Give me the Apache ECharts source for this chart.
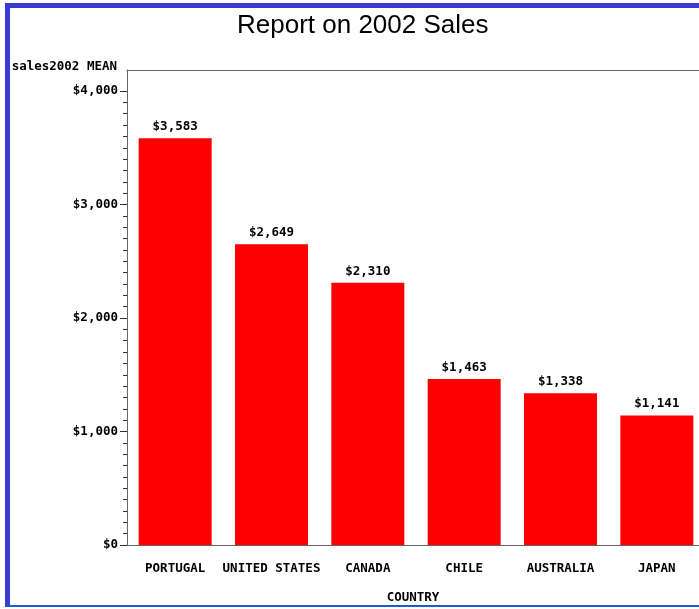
<!DOCTYPE html>
<html>
<head>
<meta charset="utf-8">
<script src="https://cdn.jsdelivr.net/npm/echarts@6/dist/echarts.min.js"></script>
<style>
html,body{margin:0;padding:0;background:#fff;width:699px;height:609px;overflow:hidden;position:relative;}
#frame{position:absolute;left:5px;top:3px;width:720px;height:597px;border-top:5px solid #3b3bd4;border-left:5px solid #3b3bd4;border-bottom:2px solid #1f58d8;box-sizing:content-box;}
#chart{position:absolute;left:0;top:0;width:720px;height:609px;z-index:2;}
</style>
</head>
<body>
<div id="frame"></div>
<div id="chart"></div>
<script>
const titleText = 'Report on 2002 Sales';
const yAxisName = 'sales2002 MEAN';
const xAxisName = 'COUNTRY';
const countries = ['PORTUGAL', 'UNITED STATES', 'CANADA', 'CHILE', 'AUSTRALIA', 'JAPAN'];
const sales2002Mean = [3583, 2649, 2310, 1463, 1338, 1141];
const yTicks = [0, 1000, 2000, 3000, 4000];

const money = v => '$' + Math.round(v).toString().replace(/\B(?=(\d{3})+(?!\d))/g, ',');
const mono = 'DejaVu Sans Mono';
const fs = 12.5;
const axisGray = '#666666';

const chart = echarts.init(document.getElementById('chart'));
chart.setOption({
  backgroundColor: 'transparent',
  animation: false,
  title: {
    text: titleText,
    left: 232, top: 8,
    textStyle: {fontFamily: 'Liberation Sans', fontSize: 26, fontWeight: 'normal', color: '#000'}
  },
  grid: [
    {left: 127, top: 91, width: 578, height: 454, containLabel: false},
    {left: 127, top: 70, width: 578, height: 21, containLabel: false}
  ],
  xAxis: [
    {
      type: 'category', gridIndex: 0, data: countries,
      axisLine: {lineStyle: {color: axisGray, width: 1}},
      axisTick: {show: false},
      axisLabel: {margin: 17, color: '#000', fontFamily: mono, fontSize: fs, fontWeight: 'bold', interval: 0},
      name: xAxisName, nameLocation: 'middle', nameGap: 46,
      nameTextStyle: {color: '#000', fontFamily: mono, fontSize: fs, fontWeight: 'bold', padding: [0, 6, 0, 0]}
    },
    {
      type: 'value', gridIndex: 1, position: 'top', min: 0, max: 1,
      axisLine: {show: true, onZero: false, lineStyle: {color: axisGray, width: 1}},
      axisTick: {show: false}, axisLabel: {show: false}, splitLine: {show: false}
    }
  ],
  yAxis: [
    {
      type: 'value', gridIndex: 0, min: 0, max: 4000, interval: 1000,
      axisLine: {show: true, lineStyle: {color: axisGray, width: 1}},
      axisTick: {show: true, length: 7, lineStyle: {color: '#333'}},
      minorTick: {show: true, splitNumber: 10, length: 4, lineStyle: {color: '#333'}},
      splitLine: {show: false},
      axisLabel: {margin: 9, color: '#000', fontFamily: mono, fontSize: fs, fontWeight: 'bold', formatter: v => money(v)},
      name: yAxisName, nameLocation: 'end', nameGap: 18,
      nameTextStyle: {align: 'right', color: '#000', fontFamily: mono, fontSize: fs, fontWeight: 'bold', padding: [0, 10, 0, 0]}
    },
    {
      type: 'value', gridIndex: 1, min: 0, max: 1,
      axisLine: {show: true, onZero: false, lineStyle: {color: axisGray, width: 1}},
      axisTick: {show: false}, axisLabel: {show: false}, splitLine: {show: false}
    }
  ],
  series: [{
    type: 'bar', xAxisIndex: 0, yAxisIndex: 0,
    data: sales2002Mean,
    barWidth: 73,
    itemStyle: {color: '#ff0000'},
    label: {show: true, position: 'top', distance: 5, color: '#000', fontFamily: mono, fontSize: fs, fontWeight: 'bold', formatter: p => money(p.value)}
  }]
});
</script>
</body>
</html>
